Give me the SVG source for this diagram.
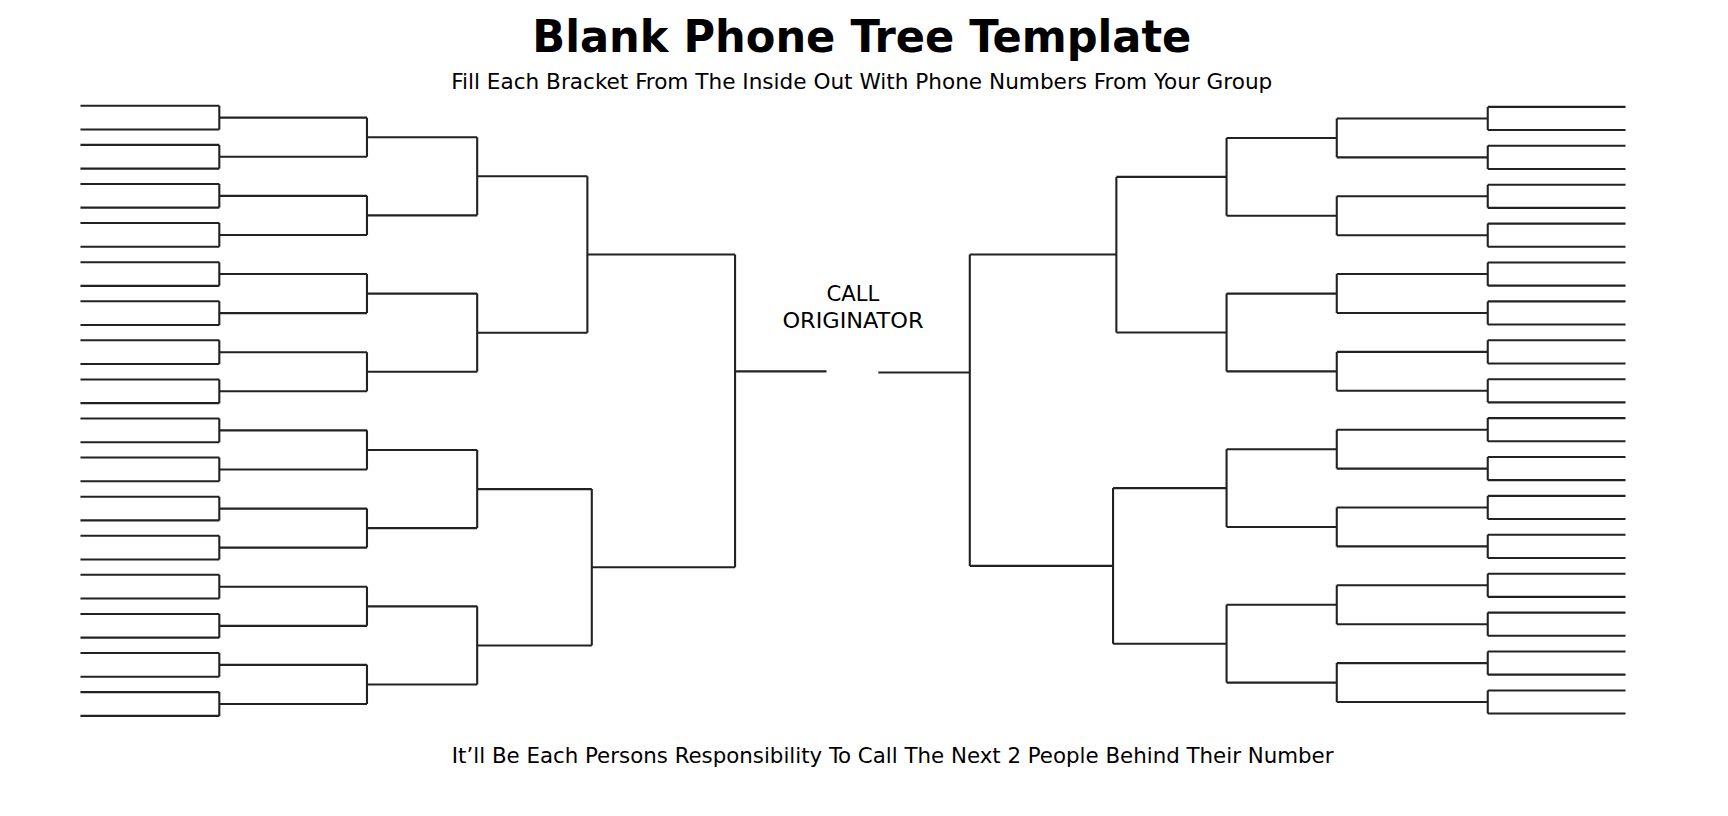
<svg xmlns="http://www.w3.org/2000/svg" width="1728" height="816" viewBox="0 0 1728 816">
<style>
.c{fill:none;stroke:#222;stroke-width:1.9}
.l{stroke:#222;stroke-width:1.9}
text{font-family:"DejaVu Sans Condensed","DejaVu Sans",sans-serif;fill:#000}
.t{font-size:40px;font-weight:bold}
.s{font-size:19px}
</style>
<rect width="1728" height="816" fill="#fff"/>
<g transform="scale(1.10204)">
<text class="t" x="782" y="47" text-anchor="middle" textLength="598" lengthAdjust="spacingAndGlyphs">Blank Phone Tree Template</text>
<text class="s" x="782" y="81" text-anchor="middle" textLength="745" lengthAdjust="spacingAndGlyphs">Fill Each Bracket From The Inside Out With Phone Numbers From Your Group</text>
<g id="originator"><text class="s" x="774" y="273" text-anchor="middle" textLength="48" lengthAdjust="spacingAndGlyphs">CALL</text><text class="s" x="774" y="298" text-anchor="middle" textLength="128" lengthAdjust="spacingAndGlyphs">ORIGINATOR</text></g>
<text class="s" x="810" y="692" text-anchor="middle" textLength="800" lengthAdjust="spacingAndGlyphs">It’ll Be Each Persons Responsibility To Call The Next 2 People Behind Their Number</text>
<g id="left-leaves">
<g id="L1"><line class="l" x1="73" y1="96" x2="199" y2="96"/><line class="l" x1="73" y1="117.5" x2="199" y2="117.5"/></g>
<g id="L2"><line class="l" x1="73" y1="131.5" x2="199" y2="131.5"/><line class="l" x1="73" y1="153" x2="199" y2="153"/></g>
<g id="L3"><line class="l" x1="73" y1="167" x2="199" y2="167"/><line class="l" x1="73" y1="188.4" x2="199" y2="188.4"/></g>
<g id="L4"><line class="l" x1="73" y1="202.4" x2="199" y2="202.4"/><line class="l" x1="73" y1="223.9" x2="199" y2="223.9"/></g>
<g id="L5"><line class="l" x1="73" y1="237.9" x2="199" y2="237.9"/><line class="l" x1="73" y1="259.4" x2="199" y2="259.4"/></g>
<g id="L6"><line class="l" x1="73" y1="273.4" x2="199" y2="273.4"/><line class="l" x1="73" y1="294.9" x2="199" y2="294.9"/></g>
<g id="L7"><line class="l" x1="73" y1="308.8" x2="199" y2="308.8"/><line class="l" x1="73" y1="330.3" x2="199" y2="330.3"/></g>
<g id="L8"><line class="l" x1="73" y1="344.3" x2="199" y2="344.3"/><line class="l" x1="73" y1="365.8" x2="199" y2="365.8"/></g>
<g id="L9"><line class="l" x1="73" y1="379.8" x2="199" y2="379.8"/><line class="l" x1="73" y1="401.3" x2="199" y2="401.3"/></g>
<g id="L10"><line class="l" x1="73" y1="415.2" x2="199" y2="415.2"/><line class="l" x1="73" y1="436.7" x2="199" y2="436.7"/></g>
<g id="L11"><line class="l" x1="73" y1="450.7" x2="199" y2="450.7"/><line class="l" x1="73" y1="472.2" x2="199" y2="472.2"/></g>
<g id="L12"><line class="l" x1="73" y1="486.2" x2="199" y2="486.2"/><line class="l" x1="73" y1="507.7" x2="199" y2="507.7"/></g>
<g id="L13"><line class="l" x1="73" y1="521.6" x2="199" y2="521.6"/><line class="l" x1="73" y1="543.1" x2="199" y2="543.1"/></g>
<g id="L14"><line class="l" x1="73" y1="557.1" x2="199" y2="557.1"/><line class="l" x1="73" y1="578.6" x2="199" y2="578.6"/></g>
<g id="L15"><line class="l" x1="73" y1="592.6" x2="199" y2="592.6"/><line class="l" x1="73" y1="614.1" x2="199" y2="614.1"/></g>
<g id="L16"><line class="l" x1="73" y1="628" x2="199" y2="628"/><line class="l" x1="73" y1="649.6" x2="199" y2="649.6"/></g>
</g>
<g id="right-leaves">
<g id="R1"><line class="l" x1="1350" y1="97" x2="1475" y2="97"/><line class="l" x1="1350" y1="118" x2="1475" y2="118"/></g>
<g id="R2"><line class="l" x1="1350" y1="132.3" x2="1475" y2="132.3"/><line class="l" x1="1350" y1="153.3" x2="1475" y2="153.3"/></g>
<g id="R3"><line class="l" x1="1350" y1="167.6" x2="1475" y2="167.6"/><line class="l" x1="1350" y1="188.6" x2="1475" y2="188.6"/></g>
<g id="R4"><line class="l" x1="1350" y1="202.9" x2="1475" y2="202.9"/><line class="l" x1="1350" y1="223.9" x2="1475" y2="223.9"/></g>
<g id="R5"><line class="l" x1="1350" y1="238.2" x2="1475" y2="238.2"/><line class="l" x1="1350" y1="259.2" x2="1475" y2="259.2"/></g>
<g id="R6"><line class="l" x1="1350" y1="273.5" x2="1475" y2="273.5"/><line class="l" x1="1350" y1="294.5" x2="1475" y2="294.5"/></g>
<g id="R7"><line class="l" x1="1350" y1="308.8" x2="1475" y2="308.8"/><line class="l" x1="1350" y1="329.8" x2="1475" y2="329.8"/></g>
<g id="R8"><line class="l" x1="1350" y1="344.1" x2="1475" y2="344.1"/><line class="l" x1="1350" y1="365.1" x2="1475" y2="365.1"/></g>
<g id="R9"><line class="l" x1="1350" y1="379.4" x2="1475" y2="379.4"/><line class="l" x1="1350" y1="400.4" x2="1475" y2="400.4"/></g>
<g id="R10"><line class="l" x1="1350" y1="414.7" x2="1475" y2="414.7"/><line class="l" x1="1350" y1="435.7" x2="1475" y2="435.7"/></g>
<g id="R11"><line class="l" x1="1350" y1="450" x2="1475" y2="450"/><line class="l" x1="1350" y1="471" x2="1475" y2="471"/></g>
<g id="R12"><line class="l" x1="1350" y1="485.3" x2="1475" y2="485.3"/><line class="l" x1="1350" y1="506.3" x2="1475" y2="506.3"/></g>
<g id="R13"><line class="l" x1="1350" y1="520.6" x2="1475" y2="520.6"/><line class="l" x1="1350" y1="541.6" x2="1475" y2="541.6"/></g>
<g id="R14"><line class="l" x1="1350" y1="555.9" x2="1475" y2="555.9"/><line class="l" x1="1350" y1="576.9" x2="1475" y2="576.9"/></g>
<g id="R15"><line class="l" x1="1350" y1="591.2" x2="1475" y2="591.2"/><line class="l" x1="1350" y1="612.2" x2="1475" y2="612.2"/></g>
<g id="R16"><line class="l" x1="1350" y1="626.5" x2="1475" y2="626.5"/><line class="l" x1="1350" y1="647.5" x2="1475" y2="647.5"/></g>
</g>
<g id="connectors">
<path class="c" d="M199 96V117.5M199 106.75H333M199 131.5V153M199 142.2H333M199 167V188.4M199 177.7H333M199 202.4V223.9M199 213.2H333M199 237.9V259.4M199 248.6H333M199 273.4V294.9M199 284.1H333M199 308.8V330.3M199 319.6H333M199 344.3V365.8M199 355H333M199 379.8V401.3M199 390.5H333M199 415.2V436.7M199 426H333M199 450.7V472.2M199 461.5H333M199 486.2V507.7M199 496.9H333M199 521.6V543.1M199 532.4H333M199 557.1V578.6M199 567.9H333M199 592.6V614.1M199 603.3H333M199 628V649.6M199 638.8H333"/>
<path class="c" d="M333 106.75V142.2M333 124.5H433M333 177.7V213.2M333 195.4H433M333 248.6V284.1M333 266.4H433M333 319.6V355M333 337.3H433M333 390.5V426M333 408.3H433M333 461.5V496.9M333 479.2H433M333 532.4V567.9M333 550.2H433M333 603.3V638.8M333 621.1H433"/>
<path class="c" d="M433 124.5V195.4M433 160H533M433 266.4V337.3M433 301.9H533M433 408.3V479.2M433 443.8H537M433 550.2V621.1M433 585.7H537"/>
<path class="c" d="M533 160V301.9M533 230.9H667M537 443.8V585.7M537 514.7H667M667 230.9V514.7M667 337H750"/>
<path class="c" d="M1350 97V118M1350 107.5H1213M1350 132.3V153.3M1350 142.8H1213M1350 167.6V188.6M1350 178.1H1213M1350 202.9V223.9M1350 213.4H1213M1350 238.2V259.2M1350 248.7H1213M1350 273.5V294.5M1350 284H1213M1350 308.8V329.8M1350 319.3H1213M1350 344.1V365.1M1350 354.6H1213M1350 379.4V400.4M1350 389.9H1213M1350 414.7V435.7M1350 425.2H1213M1350 450V471M1350 460.5H1213M1350 485.3V506.3M1350 495.8H1213M1350 520.6V541.6M1350 531.1H1213M1350 555.9V576.9M1350 566.4H1213M1350 591.2V612.2M1350 601.7H1213M1350 626.5V647.5M1350 637H1213"/>
<path class="c" d="M1213 107.5V142.8M1213 125.2H1113M1213 178.1V213.4M1213 195.8H1113M1213 248.7V284M1213 266.4H1113M1213 319.3V354.6M1213 337H1113M1213 389.9V425.2M1213 407.6H1113M1213 460.5V495.8M1213 478.2H1113M1213 531.1V566.4M1213 548.8H1113M1213 601.7V637M1213 619.4H1113"/>
<path class="c" d="M1113 125.2V195.8M1113 160.5H1013M1113 266.4V337M1113 301.7H1013M1113 407.6V478.2M1113 442.9H1010M1113 548.8V619.4M1113 584.1H1010"/>
<path class="c" d="M1013 160.5V301.7M1013 231H880M1010 442.9V584.1M1010 513.5H880M880 231V513.5M880 338H797"/>
</g>
</g>
</svg>
